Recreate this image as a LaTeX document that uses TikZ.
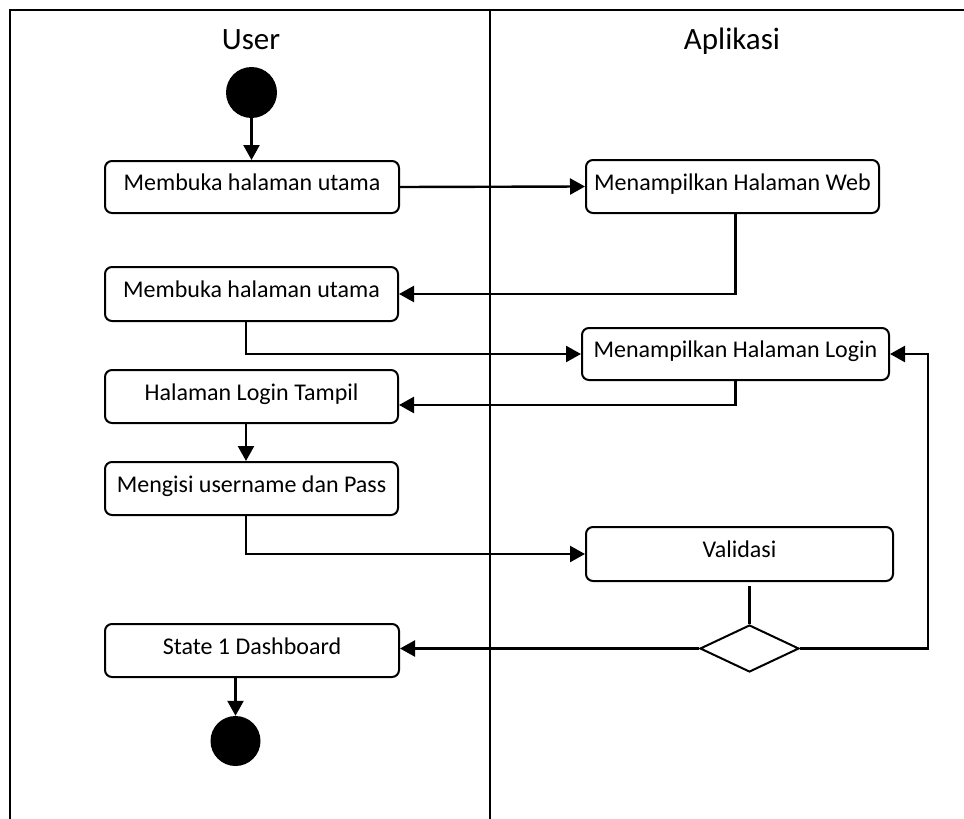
\documentclass[tikz,border=0pt]{standalone}
\usepackage{fontspec}
\setmainfont{Carlito}
\usetikzlibrary{arrows.meta,shapes.geometric}
\begin{document}
\begin{tikzpicture}[x=1pt,y=-1pt,
  lane/.style={line width=2.5pt},
  act/.style={draw, line width=2pt, rounded corners=7pt, inner sep=0pt,
    minimum width=293pt, minimum height=53pt,
    font=\fontsize{24}{28}\selectfont, text height=16pt, text depth=9pt},
  wideact/.style={act, minimum width=307pt},
  flow/.style={line width=2.4pt, -{Triangle[width=16pt,length=15pt]}},
  link/.style={line width=2.2pt},
  dot/.style={circle, fill=black, inner sep=0pt, minimum size=51pt},
  title/.style={font=\fontsize{31}{36}\selectfont, anchor=base},
  decision/.style={diamond, draw, line width=2pt, inner sep=0pt,
    minimum width=99pt, minimum height=47pt, aspect=2.1}
]
\useasboundingbox (0,0) rectangle (964,819);

% swimlanes
\draw[lane] (10,819) -- (10,10) -- (964,10);
\draw[lane] (490,10) -- (490,819);
\node[title] (userlane) at (251,49.5) {User};
\node[title] (applane) at (732,49.5) {Aplikasi};

% activities
\node[dot] (start) at (251.5,92.5) {};
\node[act, minimum width=294pt, minimum height=52pt] (open1) at (252,187) {Membuka halaman utama};
\node[act] (web) at (732.5,186.5) {Menampilkan Halaman Web};
\node[act, minimum height=54pt] (open2) at (251.5,294) {Membuka halaman utama};
\node[wideact, minimum height=52pt] (login) at (735.5,354) {Menampilkan Halaman Login};
\node[act] (tampil) at (251.5,396.5) {Halaman Login Tampil};
\node[act] (isi) at (251.5,488.5) {Mengisi username dan Pass};
\node[wideact, minimum height=54pt] (valid) at (739.5,554) {Validasi};
\node[decision] (check) at (749.5,648.5) {};
\node[act, minimum width=294pt] (dash) at (252,650.5) {State 1 Dashboard};
\node[dot, minimum size=50pt] (endc) at (235.5,741) {};

% routing columns
\coordinate (colA) at (246,0);
\coordinate (loopX) at (928,0);
\coordinate (tampilIn) at ([yshift=-8.5pt]tampil.east);

% control flow
\draw[flow] (start) -- (start |- open1.north);
\draw[flow] (open1.east) -- (web.west);
\draw[flow] (web.south -| login) |- (open2.east);
\draw[flow] (open2.south -| colA) |- (login.west);
\draw[flow] (login.south) |- (tampilIn);
\draw[flow] (tampil.south -| colA) -- (isi.north -| colA);
\draw[flow] (isi.south -| colA) |- (valid.west);
\draw[link, shorten <=4pt] (check.north |- valid.south) -- (check.north);
\draw[flow] (check.west) -- (check.west -| dash.east);
\draw[flow] (check.east) -- (check.east -| loopX) |- (login.east);
\draw[flow] (dash.south -| endc) -- (endc.north);
\end{tikzpicture}
\end{document}
